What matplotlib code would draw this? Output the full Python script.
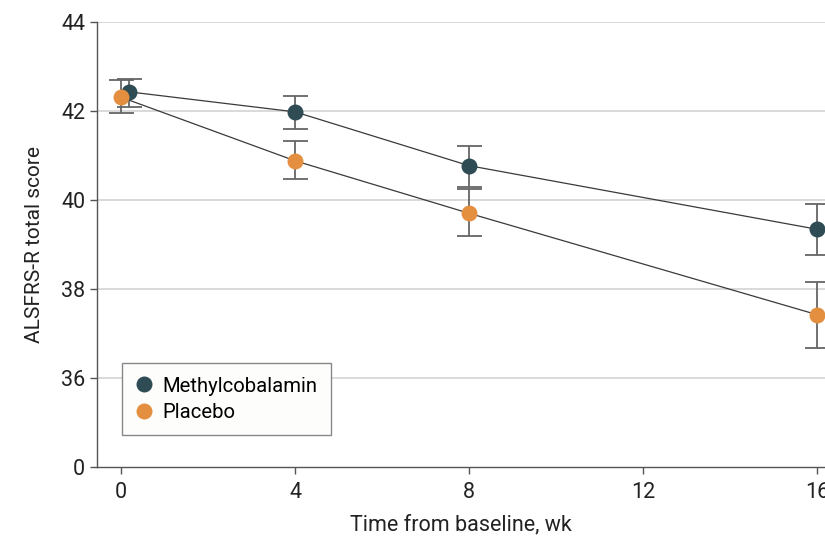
import matplotlib
matplotlib.use("Agg")
import matplotlib.pyplot as plt

plt.rcParams["font.family"] = ["Roboto", "DejaVu Sans"]

# Mean ALSFRS-R score with lower / upper error limits per visit
weeks = [0, 4, 8, 16]
methyl_x = [0.18, 4, 8, 16]
methyl_mean = [42.43, 41.98, 40.77, 39.34]
methyl_lo = [42.09, 41.59, 40.30, 38.76]
methyl_hi = [42.72, 42.33, 41.21, 39.90]

placebo_x = [0, 4, 8, 16]
placebo_mean = [42.31, 40.88, 39.70, 37.42]
placebo_lo = [41.96, 40.47, 39.19, 36.67]
placebo_hi = [42.69, 41.33, 40.25, 38.16]

# 0 sits at the 34 position (broken axis)
ytick_pos = [34, 36, 38, 40, 42, 44]
ytick_labels = ["0", "36", "38", "40", "42", "44"]
xticks = [0, 4, 8, 12, 16]

c_methyl = "#2f4c54"
c_placebo = "#e38f3f"

fig = plt.figure(figsize=(8.25, 5.36), dpi=100)
ax = fig.add_axes([0.1176, 0.129, 0.8824, 0.83])

for y in ytick_pos[1:]:
    ax.axhline(y, color="#d9d9d9", lw=1.4, zorder=0)

def draw(x, mean, lo, hi, color, label):
    yerr = [[m - l for m, l in zip(mean, lo)], [h - m for m, h in zip(mean, hi)]]
    ax.errorbar(x, mean, yerr=yerr, fmt="none", ecolor="#666666", elinewidth=1.3,
                capsize=9, capthick=1.3, zorder=2)
    ax.plot(x, mean, color="#3a3a3a", lw=0.9, zorder=3)
    ax.plot(x, mean, "o", color=color, markersize=11.5, markeredgewidth=0,
            zorder=4, label=label)

draw(methyl_x, methyl_mean, methyl_lo, methyl_hi, c_methyl, "Methylcobalamin")
draw(placebo_x, placebo_mean, placebo_lo, placebo_hi, c_placebo, "Placebo")

ax.set_xlim(-0.55, 16.18)
ax.set_ylim(34, 44)
ax.set_xticks(xticks)
ax.set_yticks(ytick_pos)
ax.set_yticklabels(ytick_labels)
ax.tick_params(axis="both", labelsize=15.5, colors="#555555", labelcolor="#222222",
               length=5, width=1)
ax.tick_params(axis="x", pad=6)

for side in ["top", "right"]:
    ax.spines[side].set_visible(False)
for side in ["left", "bottom"]:
    ax.spines[side].set_color("#555555")
    ax.spines[side].set_linewidth(1)

ax.set_ylabel("ALSFRS-R total score", fontsize=15, color="#222222", labelpad=12)
ax.set_xlabel("Time from baseline, wk", fontsize=15.5, color="#222222", labelpad=8)

leg = ax.legend(loc="lower left", bbox_to_anchor=(0.034, 0.072), fontsize=14.6,
                frameon=True, fancybox=False, handletextpad=0.45, borderpad=0.65,
                labelspacing=0.35, handlelength=0.9, borderaxespad=0)
leg.get_frame().set_edgecolor("#888888")
leg.get_frame().set_facecolor("#fdfdfb")
leg.get_frame().set_linewidth(1)
leg.get_frame().set_alpha(1)

fig.savefig("out.png", dpi=100)
